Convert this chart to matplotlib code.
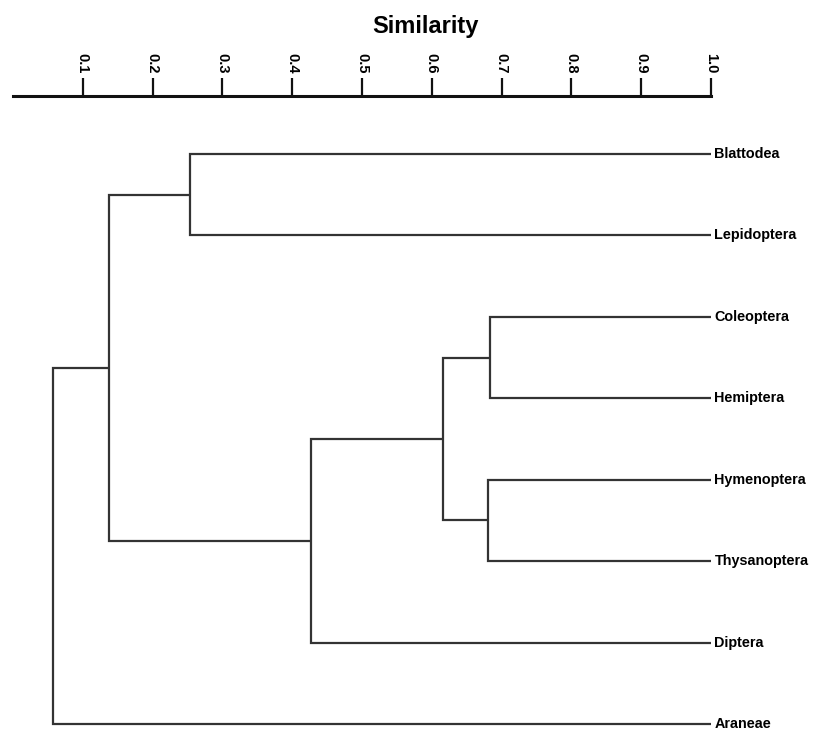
import matplotlib.pyplot as plt

# taxa in display order (top to bottom)
leaves = ['Blattodea', 'Lepidoptera', 'Coleoptera', 'Hemiptera',
          'Hymenoptera', 'Thysanoptera', 'Diptera', 'Araneae']

# merges: new cluster id = 8 + index
merge_a = [2, 4, 8, 10, 0, 12, 13]
merge_b = [3, 5, 9, 6, 1, 11, 7]
merge_sim = [0.684, 0.680, 0.616, 0.427, 0.254, 0.137, 0.057]

ticks = [0.1, 0.2, 0.3, 0.4, 0.5, 0.6, 0.7, 0.8, 0.9, 1.0]

line_col = '#333333'
plt.rcParams['font.family'] = ['Liberation Sans', 'DejaVu Sans']

fig = plt.figure(figsize=(8.19, 7.31), dpi=100)
ax = fig.add_axes([13 / 819, 0, 698 / 819, 1 - 96 / 731])

# position of every node: (similarity, y)
pos = {i: (1.0, i) for i in range(len(leaves))}
for k, (a, b, s) in enumerate(zip(merge_a, merge_b, merge_sim)):
    xa, ya = pos[a]
    xb, yb = pos[b]
    ax.plot([xa, s, s, xb], [ya, ya, yb, yb], color=line_col, lw=1.6,
            solid_joinstyle='miter', solid_capstyle='butt')
    pos[8 + k] = (s, (ya + yb) / 2)

for i, name in enumerate(leaves):
    ax.text(1.0 + 0.005, i, name, va='center', ha='left',
            fontsize=10.4, fontweight='bold')

ax.set_xlim(0, 1.0)
ax.set_ylim(7.086, -0.712)
ax.xaxis.tick_top()
ax.set_xticks(ticks)
ax.set_xticklabels([f'{t:.1f}' for t in ticks], rotation=-90,
                   fontsize=10.5, fontweight='bold')
ax.tick_params(axis='x', direction='out', length=13, width=1.6,
               color='#111111', pad=3)
ax.set_yticks([])
for side in ['bottom', 'left', 'right']:
    ax.spines[side].set_visible(False)
ax.spines['top'].set_linewidth(2.2)
ax.spines['top'].set_color('#111111')

fig.text(425 / 819, 1 - 27 / 731, 'Similarity', ha='center', va='center',
         fontsize=17, fontweight='bold')

fig.savefig('out.png', dpi=100)
